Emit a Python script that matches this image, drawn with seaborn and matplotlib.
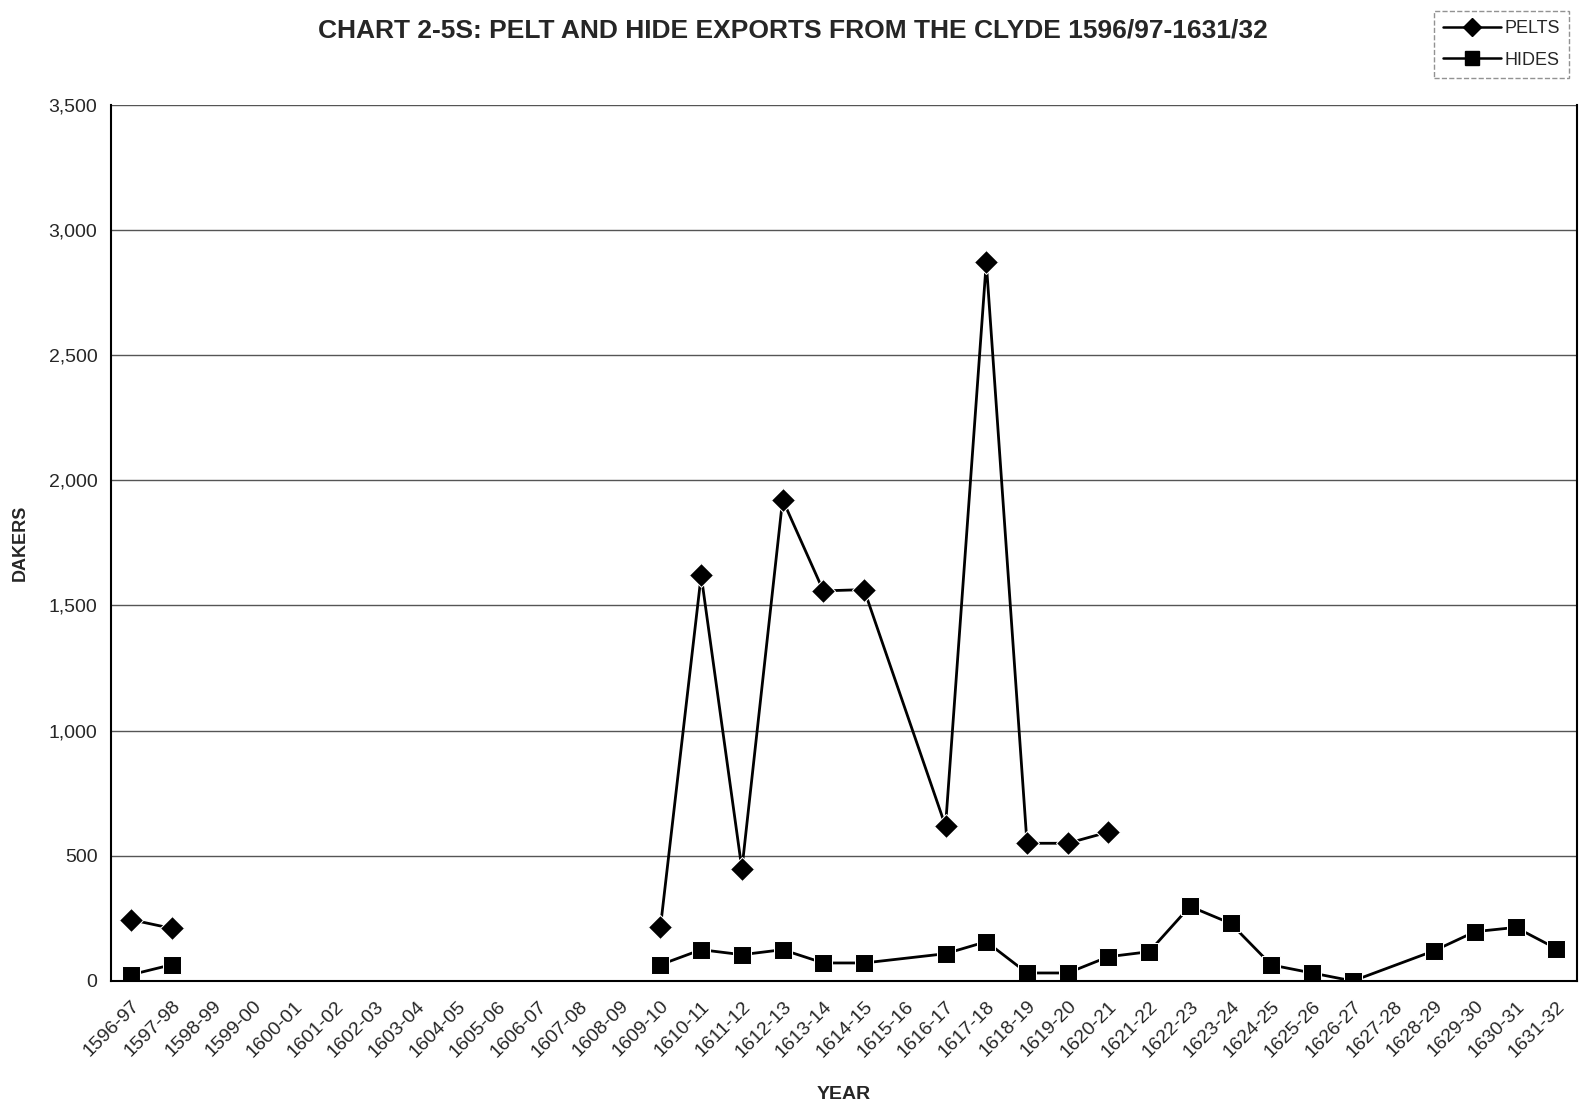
import numpy as np
import pandas as pd
import seaborn as sns
import matplotlib.pyplot as plt
import matplotlib.transforms as mtransforms
from matplotlib.lines import Line2D
from matplotlib.ticker import FuncFormatter

# Years on the category axis
years = [f"{y}-{str(y + 1)[-2:]}" for y in range(1596, 1632)]

# Exports in dakers (None = no record)
pelts = [245, 210, None, None, None, None, None, None, None, None, None, None, None,
         215, 1620, 447, 1922, 1558, 1563, None, 618, 2870, 550, 550, 595,
         None, None, None, None, None, None, None, None, None, None, None]
hides = [25, 65, None, None, None, None, None, None, None, None, None, None, None,
         65, 125, 105, 125, 72, 72, None, 109, 157, 32, 32, 97,
         117, 298, 230, 64, 32, 0, None, 121, 197, 214, 129]

series = {"PELTS": pelts, "HIDES": hides}

rows = []
for name, vals in series.items():
    seg = 0
    last = None
    for i, v in enumerate(vals):
        if v is None:
            continue
        # Excel skipped single empty years but broke the line on the long gap
        if last is not None and i - last > 2:
            seg += 1
        last = i
        rows.append({"x": i, "value": v, "series": name, "segment": f"{name}{seg}"})
df = pd.DataFrame(rows)

sns.set_style("white")
plt.rcParams["font.family"] = ["Liberation Sans", "DejaVu Sans"]

fig = plt.figure(figsize=(15.8, 11.01), dpi=100)
ax = fig.add_axes([0.070, 0.109, 0.928, 0.796])

sns.lineplot(data=df, x="x", y="value", style="series", units="segment",
             estimator=None, markers={"PELTS": "D", "HIDES": "s"}, dashes=False,
             color="black", linewidth=2.0, markersize=12.5, legend=False, ax=ax)

ax.set_xlim(-0.5, len(years) - 0.5)
ax.set_ylim(0, 3500)
ax.set_yticks(range(0, 3501, 500))
ax.yaxis.set_major_formatter(FuncFormatter(lambda v, p: f"{int(v):,}"))
ax.grid(axis="y", color="#555555", linewidth=1.0)
ax.set_axisbelow(True)

ax.set_xticks(range(len(years)))
ax.set_xticklabels(years, rotation=45, ha="right", rotation_mode="anchor", fontsize=14)
shift = mtransforms.ScaledTranslation(-8 / 100, 0, fig.dpi_scale_trans)
for lbl in ax.get_xticklabels():
    lbl.set_transform(lbl.get_transform() + shift)
ax.set_xticks(np.arange(-0.5, len(years)), minor=True)
ax.tick_params(axis="x", which="major", length=0, pad=12)
ax.tick_params(axis="x", which="minor", length=6, width=1.2, direction="out", color="black")
ax.tick_params(axis="y", length=6, width=1.2, direction="out", color="black", labelsize=14)

for side in ["left", "bottom", "right"]:
    ax.spines[side].set_color("black")
    ax.spines[side].set_linewidth(1.5)
ax.spines["top"].set_visible(False)

ax.set_xlabel("YEAR", fontsize=14, fontweight="bold", labelpad=18)
ax.set_ylabel("DAKERS", fontsize=13, fontweight="bold", labelpad=14)

fig.suptitle("CHART 2-5S: PELT AND HIDE EXPORTS FROM THE CLYDE 1596/97-1631/32",
             x=0.502, y=0.983, fontsize=19, fontweight="bold")

handles = [
    Line2D([], [], color="black", marker="D", markersize=9, linewidth=1.8, label="PELTS"),
    Line2D([], [], color="black", marker="s", markersize=10, linewidth=1.8, label="HIDES"),
]
leg = fig.legend(handles=handles, loc="upper right", bbox_to_anchor=(0.999, 0.998),
                 fontsize=13, frameon=True, fancybox=False, handlelength=3.2,
                 borderpad=0.5, labelspacing=0.8, handletextpad=0.2)
leg.get_frame().set_edgecolor("#777777")
leg.get_frame().set_linestyle("--")

plt.savefig("out.png", dpi=100)
